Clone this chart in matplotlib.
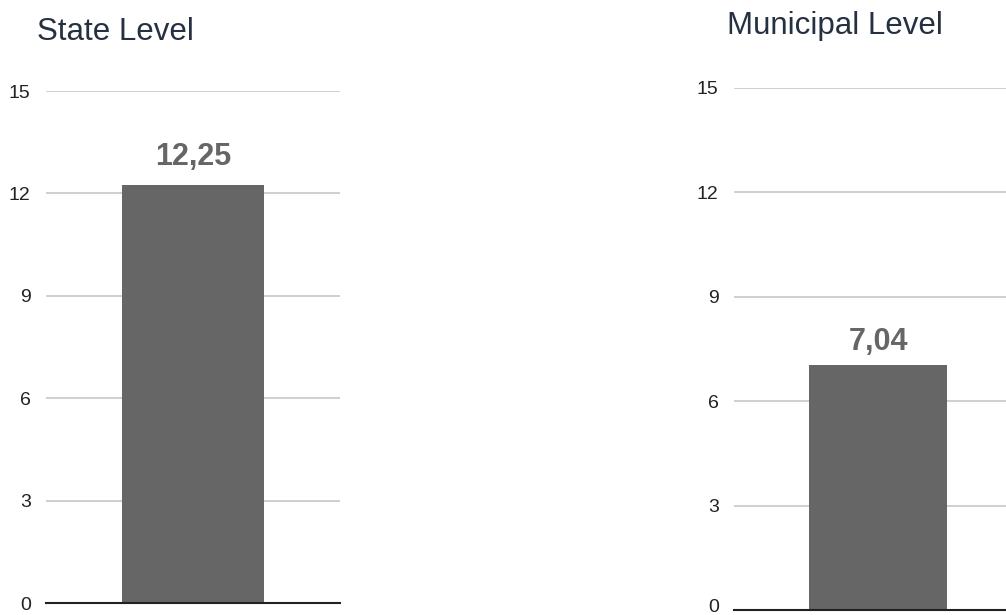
import matplotlib
matplotlib.use("Agg")
import matplotlib.pyplot as plt
from matplotlib.transforms import ScaledTranslation

# data
titles = ["State Level", "Municipal Level"]
values = [12.25, 7.04]
value_labels = ["12,25", "7,04"]
yticks = [0, 3, 6, 9, 12, 15]

plt.rcParams['font.family'] = ['Liberation Sans', 'DejaVu Sans']

fig = plt.figure(figsize=(10.06, 6.15), dpi=100)

# panel rectangles in figure fractions (left, bottom, width, height)
rects = [
    (46 / 1006, 12 / 615, 294 / 1006, 512 / 615),
    (734 / 1006, 5 / 615, 288 / 1006, 522 / 615),
]
title_pos = [(37 / 1006, 1 - 40 / 615), (727 / 1006, 1 - 34 / 615)]
label_offset = [9, 6]

for i in range(2):
    ax = fig.add_axes(rects[i])
    ax.bar([0], [values[i]], width=0.48, color='#666666', zorder=3)
    ax.set_xlim(-0.5, 0.5)
    ax.set_ylim(0, 15)
    ax.set_yticks(yticks)
    ax.set_yticklabels([str(t) for t in yticks])
    ax.set_xticks([])
    ax.grid(axis='y', color='#cccccc', linewidth=1.3, zorder=0)
    for s in ['top', 'right', 'left']:
        ax.spines[s].set_visible(False)
    ax.spines['bottom'].set_color('#222222')
    ax.spines['bottom'].set_linewidth(1.5)
    ax.spines['bottom'].set_zorder(4)
    ax.tick_params(axis='y', length=0, pad=11, labelsize=14, labelcolor='#222222')

    ax.annotate(value_labels[i], xy=(0, values[i]), xytext=(0, label_offset[i]),
                textcoords='offset points', ha='center', va='bottom',
                fontsize=22, fontweight='bold', color='#666666')

    fig.text(title_pos[i][0], title_pos[i][1], titles[i], fontsize=22.5,
             color='#253040', ha='left', va='baseline')

    if i == 1:
        # keep the lowest label of the right panel inside the picture
        lab = ax.get_yticklabels()[0]
        lab.set_transform(lab.get_transform() + ScaledTranslation(0, 4 / 100, fig.dpi_scale_trans))

fig.savefig('out.png', dpi=100, facecolor='white')
